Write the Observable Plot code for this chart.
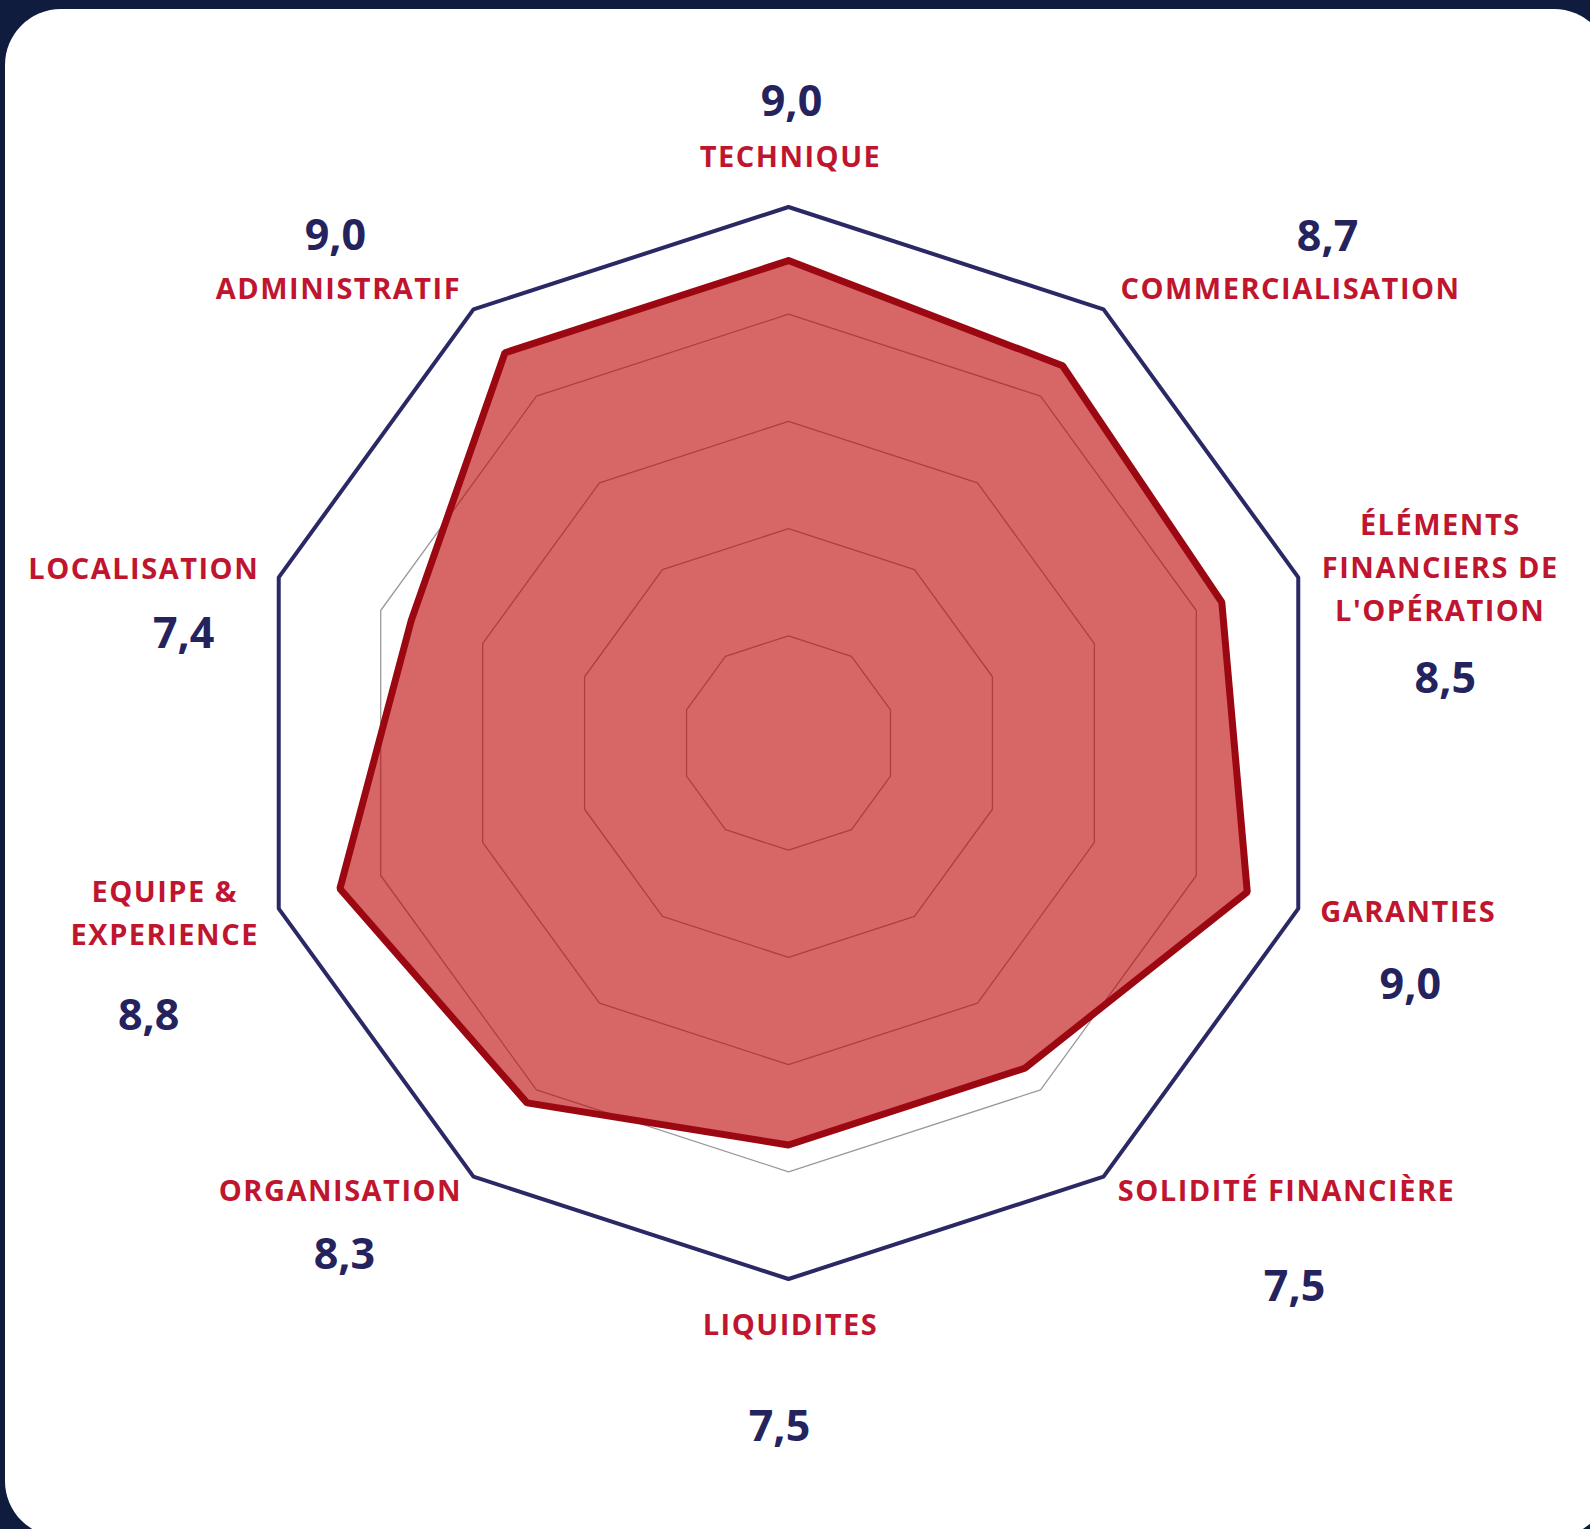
<!DOCTYPE html>
<html>
<head>
<meta charset="utf-8">
<script src="https://cdn.jsdelivr.net/npm/d3@7"></script>
<script src="https://cdn.jsdelivr.net/npm/@observablehq/plot@0.6"></script>
<style>
  html, body { margin: 0; padding: 0; background: #0f1c3e; width: 1590px; height: 1529px; overflow: hidden; }
  #card { position: absolute; left: 5px; top: 9px; width: 1605px; height: 1528px; background: #ffffff; border-radius: 56px; }
  #chart { position: absolute; left: 0; top: 0; }
</style>
</head>
<body>
<div id="card"></div>
<div id="chart"></div>
<script>
// ---- data ----
const categories = [
  "TECHNIQUE",
  "COMMERCIALISATION",
  "ÉLÉMENTS\nFINANCIERS DE\nL'OPÉRATION",
  "GARANTIES",
  "SOLIDITÉ FINANCIÈRE",
  "LIQUIDITES",
  "ORGANISATION",
  "EQUIPE &\nEXPERIENCE",
  "LOCALISATION",
  "ADMINISTRATIF"
];
const scores = [9.0, 8.7, 8.5, 9.0, 7.5, 7.5, 8.3, 8.8, 7.4, 9.0];
const gridLevels = [2, 4, 6, 8];
const maxLevel = 10;

// ---- label layout (pixel nudges from each outer vertex) ----
const catOffsets = [[2,-54],[187,-24],[142,-13],[110,0],[183,11],[2,42],[-133,11],[-114,1],[-135,-12],[-135,-24]];
const valOffsets = [[3,-105],[224,-72],[147,102],[112,77],[191,111],[-9,148],[-129,79],[-130,108],[-95,57],[-138,-73]];

// ---- geometry ----
const W = 1590, H = 1529;
const cx = 788, cy = 742.5, unit = 53.6; // px per score unit
const n = categories.length;
const ang = i => (i * 2 * Math.PI) / n;
const pt = (r, i) => ({x: r * Math.sin(ang(i)), y: r * Math.cos(ang(i))});
const ring = (r) => d3.range(n + 1).map(i => ({...pt(r, i % n), level: r}));

const gridData = gridLevels.flatMap(l => ring(l));
const outerData = ring(maxLevel);
const scoreData = d3.range(n + 1).map(i => pt(scores[i % n], i % n));

const fmt = v => v.toFixed(1).replace(".", ",");
const catLabels = categories.map((c, i) => {
  const v = pt(maxLevel, i);
  return {text: c, x: v.x + catOffsets[i][0] / unit, y: v.y - catOffsets[i][1] / unit};
});
const valLabels = scores.map((s, i) => {
  const v = pt(maxLevel, i);
  return {text: fmt(s), x: v.x + valOffsets[i][0] / unit, y: v.y - valOffsets[i][1] / unit};
});

const catColor = "#c0152f";
const chart = Plot.plot({
  width: W,
  height: H,
  margin: 0,
  style: {background: "transparent", fontFamily: "'Open Sans', sans-serif"},
  x: {domain: [-cx / unit, (W - cx) / unit], range: [0, W], axis: null},
  y: {domain: [-(H - cy) / unit, cy / unit], range: [H, 0], axis: null},
  marks: [
    Plot.line(gridData, {x: "x", y: "y", z: "level", stroke: "#9a9a9a", strokeWidth: 1.3}),
    Plot.line(outerData, {x: "x", y: "y", stroke: "#2a2966", strokeWidth: 4, strokeLinejoin: "miter"}),
    Plot.line(scoreData, {x: "x", y: "y", fill: "#bd0002", fillOpacity: 0.6, stroke: "#9c0812", strokeWidth: 7, strokeLinejoin: "miter"}),
    Plot.text(catLabels, {x: "x", y: "y", text: "text", fill: catColor, fontSize: 29, fontWeight: 700, lineHeight: 1.47, lineAnchor: "middle", textAnchor: "middle"}),
    Plot.text(valLabels, {x: "x", y: "y", text: "text", fill: "#25235e", fontSize: 43, fontWeight: 700, lineAnchor: "middle", textAnchor: "middle"})
  ]
});
d3.select(chart).selectAll(`g[fill="${catColor}"] text`).style("letter-spacing", "1.5px");
document.getElementById("chart").appendChild(chart);
</script>
</body>
</html>
